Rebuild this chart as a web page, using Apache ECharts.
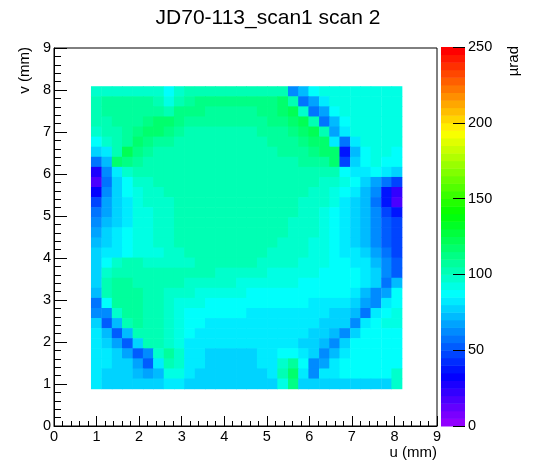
<!DOCTYPE html>
<html>
<head>
<meta charset="utf-8">
<script src="https://cdn.jsdelivr.net/npm/echarts@6/dist/echarts.min.js"></script>
<style>html,body{margin:0;padding:0;background:#fff}#c{width:548px;height:474px}</style>
</head>
<body>
<div id="c"></div>
<script>
// ---------------- data ----------------
const chartTitle = 'JD70-113_scan1 scan 2';
const xTitle = 'u (mm)';
const yTitle = 'v (mm)';
const zTitle = 'µrad';

// cell centres (mm)
const uCenters = [0.99,1.24,1.48,1.72,1.97,2.21,2.45,2.70,2.94,3.18,3.43,3.67,3.91,4.16,4.40,
                  4.64,4.89,5.13,5.37,5.62,5.86,6.10,6.35,6.59,6.83,7.08,7.32,7.56,7.81,8.05];
const vCenters = [7.97,7.73,7.49,7.25,7.01,6.77,6.53,6.29,6.05,5.81,5.57,5.33,5.09,4.85,4.61,
                  4.37,4.13,3.89,3.65,3.41,3.17,2.93,2.69,2.45,2.21,1.97,1.73,1.49,1.25,1.01];

// values (µrad), rows from top (v high) to bottom, columns left to right
const zRows = [
[95,98,98,98,98,98,95,88,95,100,100,100,102,102,102,102,102,102,100,62,70,85,90,92,92,92,92,92,92,90],
[102,106,107,107,107,106,100,90,100,108,110,110,110,110,110,110,112,113,116,100,58,65,82,90,92,92,92,92,92,92],
[100,105,107,107,108,108,105,100,112,112,110,108,108,108,108,108,110,112,115,120,95,55,65,85,90,92,92,92,92,92],
[100,104,106,107,108,112,118,115,110,106,105,105,105,105,106,106,108,110,112,116,120,100,58,72,88,92,92,92,92,92],
[98,102,104,106,110,118,115,110,106,104,103,103,103,103,104,104,105,106,108,110,115,120,100,68,80,90,92,92,92,90],
[88,98,102,108,118,114,108,105,103,102,102,102,102,102,102,103,104,105,106,108,110,115,118,80,55,80,90,92,92,90],
[75,80,100,120,112,106,104,103,102,102,101,101,101,101,101,102,103,104,105,106,108,110,115,118,38,70,88,90,90,88],
[58,70,118,112,106,104,102,102,101,101,100,100,100,100,100,101,102,102,103,104,105,106,108,115,45,75,88,90,88,85],
[25,62,82,95,100,101,101,101,100,100,100,100,100,100,100,100,101,101,102,102,102,103,103,100,88,80,82,85,80,78],
[18,58,78,88,96,99,100,100,100,100,100,100,100,100,100,100,100,100,100,100,100,100,98,95,90,85,78,68,55,45],
[30,60,75,85,93,97,99,100,100,100,100,100,100,100,100,100,100,100,100,100,100,99,97,93,88,80,72,60,38,20],
[48,65,76,84,90,95,98,99,100,100,100,100,100,100,100,100,100,100,100,100,99,98,95,90,84,77,70,58,35,18],
[55,68,76,83,90,94,97,99,100,100,100,100,100,100,100,100,100,100,100,100,99,97,94,88,82,76,70,60,48,35],
[62,72,78,84,90,94,97,99,100,100,100,100,100,100,100,100,100,100,100,99,98,96,92,87,82,76,70,62,52,45],
[68,75,80,85,90,94,97,99,100,100,101,102,103,103,102,101,100,100,100,99,97,95,91,86,82,76,70,62,52,45],
[72,78,82,86,90,93,96,98,100,100,101,102,103,103,102,101,100,100,99,98,96,94,90,86,83,78,72,64,54,48],
[75,80,84,87,90,92,94,97,99,100,100,101,102,102,101,100,100,99,98,97,95,93,90,87,84,80,75,68,58,48],
[75,88,96,100,100,99,98,98,98,99,100,100,100,100,100,100,99,98,97,96,94,92,90,88,86,84,80,74,62,52],
[78,98,102,104,102,101,100,100,100,100,100,100,99,98,97,96,95,94,93,92,91,90,89,88,88,87,84,76,62,52],
[76,102,106,106,104,102,101,100,100,99,98,97,96,95,94,93,92,91,90,90,89,89,88,88,87,86,84,75,56,72],
[70,104,108,108,106,103,101,99,97,95,94,93,92,91,90,89,89,88,88,88,88,87,86,85,85,84,72,60,65,85],
[55,88,108,108,106,103,100,97,94,91,90,89,88,87,86,86,86,86,86,86,85,84,83,82,80,76,65,62,82,88],
[60,62,98,106,106,104,100,96,92,89,88,86,85,85,85,84,84,84,84,84,83,82,80,78,76,72,58,80,88,90],
[75,52,72,102,105,103,100,95,90,87,85,84,83,83,83,83,83,83,83,83,81,80,78,76,75,60,80,88,90,90],
[80,70,50,72,102,104,102,97,90,85,84,83,82,82,82,82,82,82,82,82,80,78,76,72,60,78,86,88,88,88],
[82,78,68,50,75,102,102,99,90,84,82,80,80,80,80,80,80,80,82,82,79,77,72,60,78,86,88,88,88,88],
[82,80,76,68,50,62,98,106,95,84,80,79,78,78,78,79,80,82,86,88,80,75,62,70,84,88,88,88,88,88],
[82,80,78,75,66,52,80,104,96,84,80,78,77,77,77,78,80,84,96,108,85,64,68,82,86,88,88,88,88,86],
[80,78,76,75,74,68,70,92,90,82,79,77,76,76,76,77,79,82,100,115,80,62,80,84,85,86,86,86,85,95],
[80,78,76,76,76,76,78,82,82,78,78,76,75,75,75,75,75,76,90,110,76,75,75,75,75,75,75,75,75,95]
];

// axis ticks
const uTicks = [0,1,2,3,4,5,6,7,8,9];
const vTicks = [0,1,2,3,4,5,6,7,8,9];
const zTicks = [0,50,100,150,200,250];
// colour-scale band edges (palette levels)
const zBandEdges = [0,5,10,15,20,25,30,35,40,45,50,55,60,65,70,75,80,85,90,95,
                    100,105,110,115,120,125,130,135,140,145,150,155,160,165,170,175,180,185,190,195,
                    200,205,210,215,220,225,230,235,240,245];

// ---------------- style constants ----------------
const CELL_DU = 0.2433;
const CELL_DV = 0.24;
const BAND = 5;
const FONT = 'Liberation Sans, Arial, Helvetica, sans-serif';

// ROOT "pretty" palette: HLS hue 280 -> 0, l=0.5, s=1
function hlsColor(h) {
  const c = 1, hp = h / 60, x = c * (1 - Math.abs(hp % 2 - 1));
  let r = 0, g = 0, b = 0;
  if (hp < 1) { r = c; g = x; } else if (hp < 2) { r = x; g = c; }
  else if (hp < 3) { g = c; b = x; } else if (hp < 4) { g = x; b = c; }
  else if (hp < 5) { r = x; b = c; } else { r = c; b = x; }
  return 'rgb(' + Math.round(r * 255) + ',' + Math.round(g * 255) + ',' + Math.round(b * 255) + ')';
}
const pieces = zBandEdges.map((e, k) => {
  const last = k === zBandEdges.length - 1;
  const col = last ? 'rgb(255,0,0)' : hlsColor(280 - (k + 1) * 5.6);
  return last ? {gte: e, lte: e + BAND, color: col} : {gte: e, lt: e + BAND, color: col};
});

const cells = [];
zRows.forEach((row, i) => row.forEach((z, j) => cells.push([uCenters[j], vCenters[i], z])));
const bandData = zBandEdges.map(e => [0, e, e + BAND / 2]);

const chart = echarts.init(document.getElementById('c'), null, {renderer: 'canvas'});

const mainAxisCommon = {
  type: 'value', min: 0, max: 9, interval: 1,
  axisLine: {show: true, onZero: false, lineStyle: {color: '#000', width: 1}},
  splitLine: {show: false},
  axisLabel: {fontSize: 14.5, color: '#000', fontFamily: FONT}
};

chart.setOption({
  animation: false,
  backgroundColor: '#fff',
  grid: [
    {left: 54, top: 48, width: 383, height: 378, show: true, borderColor: '#000', borderWidth: 1,
     backgroundColor: 'transparent', containLabel: false, outerBoundsMode: 'none'},
    {left: 441, top: 47, width: 24, height: 379, show: false, containLabel: false, outerBoundsMode: 'none'}
  ],
  xAxis: [
    Object.assign({}, mainAxisCommon, {
      gridIndex: 0,
      axisTick: {show: true, inside: true, length: 10, lineStyle: {color: '#000'}},
      minorTick: {show: true, splitNumber: 5, length: 5, lineStyle: {color: '#000'}},
      axisLabel: Object.assign({}, mainAxisCommon.axisLabel, {margin: 3})
    }),
    {type: 'value', gridIndex: 1, min: 0, max: 1, show: false, axisLine: {onZero: false}}
  ],
  yAxis: [
    Object.assign({}, mainAxisCommon, {
      gridIndex: 0,
      axisTick: {show: true, inside: true, length: 13, lineStyle: {color: '#000'}},
      minorTick: {show: true, splitNumber: 5, length: 7, lineStyle: {color: '#000'}},
      axisLabel: Object.assign({}, mainAxisCommon.axisLabel, {margin: 3})
    }),
    {type: 'value', gridIndex: 1, min: 0, max: 250, interval: 50, position: 'right', z: 10,
     axisLine: {show: false, onZero: false},
     axisTick: {show: true, inside: true, length: 12, lineStyle: {color: '#000'}},
     splitLine: {show: false},
     axisLabel: {fontSize: 14.5, color: '#000', fontFamily: FONT, margin: 3}}
  ],
  visualMap: {
    type: 'piecewise', show: false, dimension: 2, seriesIndex: [0, 1], pieces: pieces
  },
  series: [
    {
      type: 'custom', xAxisIndex: 0, yAxisIndex: 0, silent: true,
      encode: {x: 0, y: 1},
      data: cells,
      renderItem: function (params, api) {
        const u = api.value(0), v = api.value(1);
        const a = api.coord([u - CELL_DU / 2, v + CELL_DV / 2]);
        const b = api.coord([u + CELL_DU / 2, v - CELL_DV / 2]);
        return {type: 'rect', shape: {x: a[0], y: a[1], width: b[0] - a[0] + 0.6, height: b[1] - a[1] + 0.6},
                style: {fill: api.visual('color')}};
      }
    },
    {
      type: 'custom', xAxisIndex: 1, yAxisIndex: 1, silent: true, z: 1,
      encode: {x: 0, y: 1},
      data: bandData,
      renderItem: function (params, api) {
        const cs = params.coordSys;
        const lo = api.value(1);
        const top = api.coord([0, lo + BAND])[1];
        const bot = api.coord([0, lo])[1];
        return {type: 'rect', shape: {x: cs.x, y: top, width: cs.width, height: bot - top + 0.5},
                style: {fill: api.visual('color')}};
      }
    }
  ],
  graphic: [
    {type: 'text', x: 268, y: 18, style: {text: chartTitle, fontSize: 21, fontFamily: FONT, fill: '#000', align: 'center', verticalAlign: 'middle'}},
    {type: 'text', x: 437, y: 453, style: {text: xTitle, fontSize: 15, fontFamily: FONT, fill: '#000', align: 'right', verticalAlign: 'middle'}},
    {type: 'text', x: 25, y: 47, rotation: Math.PI / 2, style: {text: yTitle, fontSize: 15, fontFamily: FONT, fill: '#000', align: 'right', verticalAlign: 'middle'}},
    {type: 'text', x: 514, y: 46, rotation: Math.PI / 2, style: {text: zTitle, fontSize: 15, fontFamily: FONT, fill: '#000', align: 'right', verticalAlign: 'middle'}}
  ]
});
</script>
</body>
</html>
